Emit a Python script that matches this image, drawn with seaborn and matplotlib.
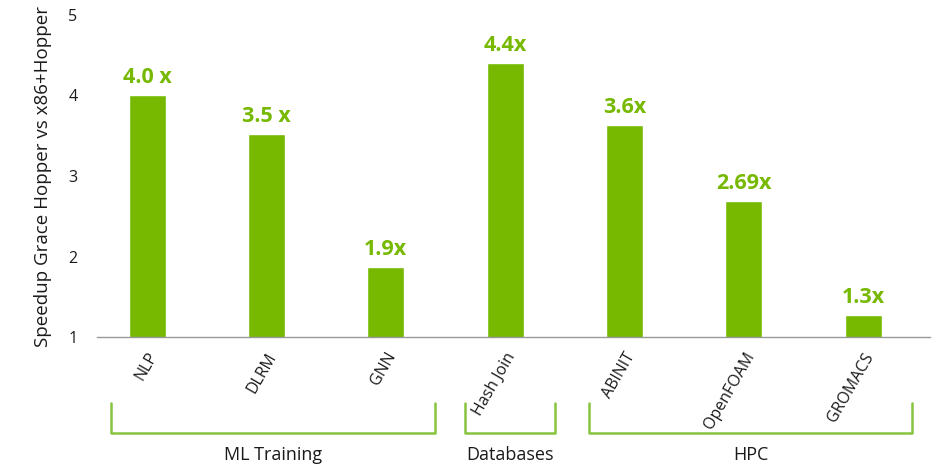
import matplotlib
matplotlib.use("Agg")
import matplotlib.pyplot as plt
import seaborn as sns
import pandas as pd
from matplotlib.transforms import blended_transform_factory

categories = ["NLP", "DLRM", "GNN", "Hash Join", "ABINIT", "OpenFOAM", "GROMACS"]
speedups = [4.0, 3.52, 1.87, 4.4, 3.63, 2.69, 1.27]
value_labels = ["4.0 x", "3.5 x", "1.9x", "4.4x", "3.6x", "2.69x", "1.3x"]
groups = ["ML Training", "Databases", "HPC"]
group_spans = [(-0.30, 2.41), (2.66, 3.42), (3.70, 6.41)]
yticks = [1, 2, 3, 4, 5]

sns.set_theme(style="white")
plt.rcParams['font.family'] = ['Open Sans', 'DejaVu Sans']

GREEN = "#76B900"
BRACKET = "#86C440"

df = pd.DataFrame({"cat": categories, "val": speedups})
fig = plt.figure(figsize=(9.32, 4.65), dpi=100)
ax = fig.add_axes([0.104, 0.275, 0.894, 0.693])
sns.barplot(data=df, x="cat", y="val", color=GREEN, saturation=1, width=0.31, ax=ax)
ax.set_ylim(1, 5)
ax.set_xlim(-0.42, 6.56)
ax.set_yticks(yticks)
ax.set_yticklabels([str(t) for t in yticks], fontsize=11.5, color="#1a1a1a")
ax.tick_params(axis="y", length=0, pad=14)
ax.tick_params(axis="x", length=0, pad=9)
ax.set_xticks(range(len(categories)))
ax.set_xticklabels(categories, rotation=60, ha="right", rotation_mode="anchor",
                   fontsize=11.5, color="#1a1a1a")
ax.set_xlabel("")
ax.set_ylabel("Speedup Grace Hopper vs x86+Hopper", fontsize=13.5, color="#1a1a1a", labelpad=12)
for s in ["top", "right", "left"]:
    ax.spines[s].set_visible(False)
ax.spines["bottom"].set_color("#999999")
ax.spines["bottom"].set_linewidth(1)

ax.bar_label(ax.containers[0], labels=value_labels, padding=5, color=GREEN,
             fontsize=15.5, fontweight="bold")

trans = blended_transform_factory(ax.transData, fig.transFigure)
y_top = 1 - 403 / 465
y_bot = 1 - 433 / 465
for name, (x0, x1) in zip(groups, group_spans):
    ax.plot([x0, x0, x1, x1], [y_top, y_bot, y_bot, y_top], color=BRACKET, lw=1.8,
            transform=trans, clip_on=False, solid_joinstyle="round")
    ax.text((x0 + x1) / 2, 1 - 455 / 465, name, transform=trans, ha="center", va="center",
            fontsize=13, color="#1a1a1a")

fig.savefig("out.png", dpi=100)
